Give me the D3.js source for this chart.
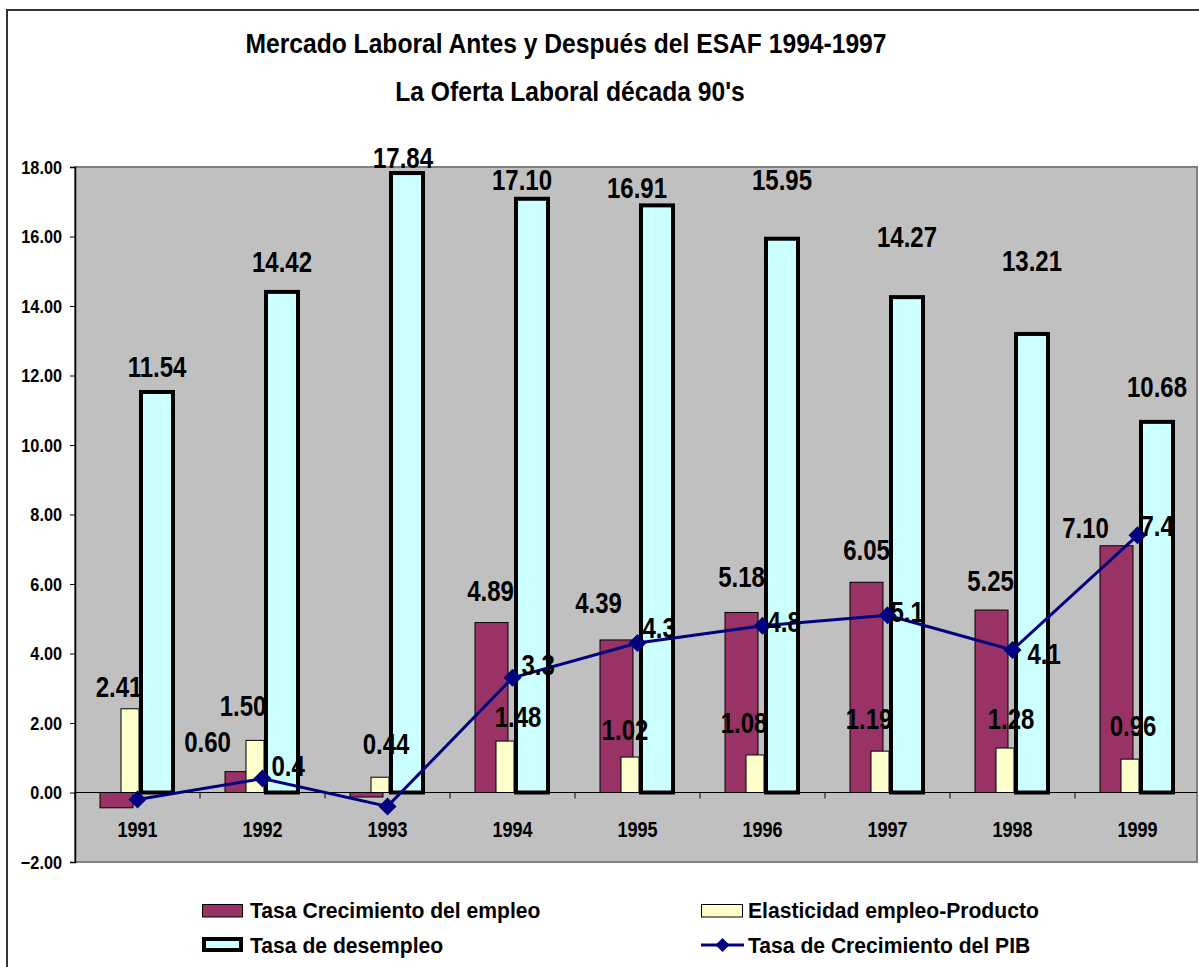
<!DOCTYPE html>
<html>
<head>
    <meta charset="UTF-8">
    <script src="https://d3js.org/d3.v7.min.js"></script>
    <title>Mercado Laboral</title>
    <style type="text/css">
        body { margin: 0; background: #fff; }
        text { font-family: "Liberation Sans", Arial, sans-serif; font-weight: bold; fill: #000; }
    </style>
</head>
<body>
<script type="text/javascript">
    // data
    var years = ["1991", "1992", "1993", "1994", "1995", "1996", "1997", "1998", "1999"];
    var empleo = [-0.44, 0.60, -0.13, 4.89, 4.39, 5.18, 6.05, 5.25, 7.10];
    var elasticidad = [2.41, 1.50, 0.44, 1.48, 1.02, 1.08, 1.19, 1.28, 0.96];
    var desempleo = [11.54, 14.42, 17.84, 17.10, 16.91, 15.95, 14.27, 13.21, 10.68];
    var pib = [-0.2, 0.4, -0.4, 3.3, 4.3, 4.8, 5.1, 4.1, 7.4];
    var yTicks = [-2, 0, 2, 4, 6, 8, 10, 12, 14, 16, 18];

    // label nudges (the labels were dragged by hand in the original): [dx, gap above bar]
    var empLabelPos = [[0, 20], [-34, 20], [0, 20], [-1, 22], [-18, 27], [0, 25], [0, 22], [-1, 19], [-31, 8]];
    var elaLabelPos = [[-11, 12], [-12, 24], [6, 23], [13, 14], [-5, 17], [-11, 22], [-11, 22], [6, 19], [3, 23]];
    var desLabelPos = [[0, 14], [0, 19], [-4, 5], [-10, 8], [-20, 7], [0, 48], [0, 50], [0, 62], [0, 24]];
    // [dx to left edge, dy of text middle] for the PIB line
    var pibLabelPos = [[9, -13], [9, -13], [9, -13], [9, -13], [5, -16], [5, -4], [3, -4], [15, 3], [3, -10]];

    var W = 1199, H = 967;
    var plot = { left: 75, right: 1197, top: 167, bottom: 862 };

    var svg = d3.select("body").append("svg")
        .attr("width", W)
        .attr("height", H);

    // chart frame
    svg.append("rect")
        .attr("x", 7).attr("y", 10)
        .attr("width", W + 20).attr("height", H + 20)
        .attr("fill", "#fff")
        .attr("stroke", "#333")
        .attr("stroke-width", 2);

    // helper for the squeezed Excel-like text
    function label(g, x, y, str, size, anchor, sx) {
        return g.append("text")
            .attr("transform", "translate(" + x + "," + y + ") scale(" + sx + ",1)")
            .attr("text-anchor", anchor)
            .style("font-size", size + "px")
            .text(str);
    }

    // titles
    label(svg, 566, 53, "Mercado Laboral Antes y Después del ESAF 1994-1997", 28, "middle", 0.88);
    label(svg, 570, 101, "La Oferta Laboral década 90's", 28, "middle", 0.88);

    var x = d3.scaleBand()
        .domain(years)
        .range([plot.left, plot.left + 125 * years.length])
        .padding(0);

    var y = d3.scaleLinear()
        .domain([-2, 18])
        .range([plot.bottom, plot.top]);

    // plot area
    svg.append("rect")
        .attr("x", plot.left).attr("y", plot.top)
        .attr("width", plot.right - plot.left)
        .attr("height", plot.bottom - plot.top)
        .attr("fill", "#c0c0c0")
        .attr("stroke", "#808080")
        .attr("stroke-width", 2);

    // y axis
    var yAxis = d3.axisLeft(y)
        .tickValues(yTicks)
        .tickSize(5)
        .tickFormat("");
    svg.append("g")
        .attr("class", "y axis")
        .attr("transform", "translate(" + plot.left + ",0)")
        .call(yAxis)
        .call(function (g) {
            g.select(".domain").attr("stroke", "#000").attr("stroke-width", 1.5);
            g.selectAll(".tick line").attr("stroke", "#000");
        });
    yTicks.forEach(function (t) {
        label(svg, 62, y(t) + 6.5, d3.format(".2f")(t), 18.5, "end", 0.88);
    });

    var bw = x.bandwidth();

    // Tasa Crecimiento del empleo
    svg.append("g").selectAll("rect")
        .data(empleo)
        .join("rect")
        .attr("x", function (d, i) { return x(years[i]) + 25; })
        .attr("y", function (d) { return Math.min(y(d), y(0)); })
        .attr("width", 33)
        .attr("height", function (d) { return Math.abs(y(d) - y(0)); })
        .attr("fill", "#993366")
        .attr("stroke", "#000")
        .attr("stroke-width", 1);

    // Elasticidad empleo-Producto
    svg.append("g").selectAll("rect")
        .data(elasticidad)
        .join("rect")
        .attr("x", function (d, i) { return x(years[i]) + 46; })
        .attr("y", function (d) { return y(d); })
        .attr("width", 18)
        .attr("height", function (d) { return y(0) - y(d); })
        .attr("fill", "#ffffcc")
        .attr("stroke", "#000")
        .attr("stroke-width", 1);

    // Tasa de desempleo
    svg.append("g").selectAll("rect")
        .data(desempleo)
        .join("rect")
        .attr("x", function (d, i) { return x(years[i]) + 66; })
        .attr("y", function (d) { return y(d) + 0.5; })
        .attr("width", 32)
        .attr("height", function (d) { return y(0) - y(d) - 0.5; })
        .attr("fill", "#ccffff")
        .attr("stroke", "#000")
        .attr("stroke-width", 4);

    // category axis at zero
    var xAxis = d3.axisBottom(x).tickSize(0).tickFormat("");
    svg.append("g")
        .attr("class", "x axis")
        .attr("transform", "translate(0," + y(0) + ")")
        .call(xAxis)
        .call(function (g) {
            g.select(".domain").attr("stroke", "#000").attr("stroke-width", 1.2)
                .attr("d", "M" + plot.left + ",0H" + plot.right);
        });
    svg.append("g").selectAll("line")
        .data(d3.range(years.length + 1))
        .join("line")
        .attr("x1", function (i) { return plot.left + i * bw; })
        .attr("x2", function (i) { return plot.left + i * bw; })
        .attr("y1", y(0))
        .attr("y2", y(0) + 6)
        .attr("stroke", "#000");
    years.forEach(function (yr) {
        label(svg, x(yr) + bw / 2, 837, yr, 22.5, "middle", 0.8);
    });

    // Tasa de Crecimiento del PIB
    var line = d3.line()
        .x(function (d, i) { return x(years[i]) + bw / 2; })
        .y(function (d) { return y(d); });
    svg.append("path")
        .attr("d", line(pib))
        .attr("fill", "none")
        .attr("stroke", "#000080")
        .attr("stroke-width", 3);
    var diamond = "M0,-9L9,0L0,9L-9,0Z";
    svg.append("g").selectAll("path")
        .data(pib)
        .join("path")
        .attr("transform", function (d, i) { return "translate(" + (x(years[i]) + bw / 2) + "," + y(d) + ")"; })
        .attr("d", diamond)
        .attr("fill", "#000080");

    // data labels
    var lg = svg.append("g");
    empleo.forEach(function (v, i) {
        if (v < 0) return;
        label(lg, x(years[i]) + 41.5 + empLabelPos[i][0], y(v) - empLabelPos[i][1], d3.format(".2f")(v), 30, "middle", 0.8);
    });
    elasticidad.forEach(function (v, i) {
        label(lg, x(years[i]) + 55 + elaLabelPos[i][0], y(v) - elaLabelPos[i][1], d3.format(".2f")(v), 30, "middle", 0.8);
    });
    desempleo.forEach(function (v, i) {
        label(lg, x(years[i]) + 82 + desLabelPos[i][0], y(v) - desLabelPos[i][1], d3.format(".2f")(v), 30, "middle", 0.8);
    });
    pib.forEach(function (v, i) {
        if (v < 0) return;
        label(lg, x(years[i]) + bw / 2 + pibLabelPos[i][0], y(v) + pibLabelPos[i][1] + 10.5, d3.format(".1f")(v), 30, "start", 0.8);
    });

    // legend
    var leg = svg.append("g");
    leg.append("rect").attr("x", 202.5).attr("y", 904.5).attr("width", 40).attr("height", 12.5)
        .attr("fill", "#993366").attr("stroke", "#000").attr("stroke-width", 1);
    label(leg, 250, 918, "Tasa Crecimiento del empleo", 22, "start", 0.96);

    leg.append("rect").attr("x", 204).attr("y", 939).attr("width", 37).attr("height", 11)
        .attr("fill", "#ccffff").attr("stroke", "#000").attr("stroke-width", 4);
    label(leg, 250, 953, "Tasa de desempleo", 22, "start", 0.96);

    leg.append("rect").attr("x", 701.5).attr("y", 904.5).attr("width", 41).attr("height", 12.5)
        .attr("fill", "#ffffcc").attr("stroke", "#000").attr("stroke-width", 1);
    label(leg, 748, 918, "Elasticidad empleo-Producto", 22, "start", 0.96);

    leg.append("line").attr("x1", 701).attr("x2", 744).attr("y1", 945).attr("y2", 945)
        .attr("stroke", "#000080").attr("stroke-width", 3);
    leg.append("path").attr("transform", "translate(722.5,945)").attr("d", "M0,-7L7,0L0,7L-7,0Z")
        .attr("fill", "#000080");
    label(leg, 748, 953, "Tasa de Crecimiento del PIB", 22, "start", 0.96);
</script>
</body>
</html>
